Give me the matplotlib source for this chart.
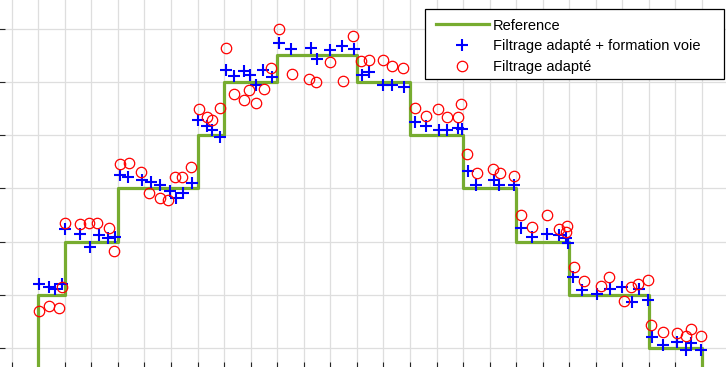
import numpy as np
import matplotlib
matplotlib.use('Agg')
import matplotlib.pyplot as plt
from matplotlib.patches import Rectangle

# Reference step profile (edges on x, level held until next edge)
ref_edges = [-1, 1, 2, 4, 7, 8, 10, 13, 15, 17, 19, 21, 24, 26, 28]
ref_levels = [-1, 1, 2, 3, 4, 5, 5.5, 5, 4, 3, 2, 1, 0, -1]

# Matched filtering + beamforming estimates
bf_x = [1.03, 1.42, 1.63, 1.88,
        2.01, 2.57, 2.95, 3.29, 3.64, 3.89,
        4.08, 4.39, 4.91, 5.24, 5.59, 5.96, 6.18, 6.46, 6.78,
        7.01, 7.37, 7.56, 7.85,
        8.07, 8.38, 8.75, 8.98, 9.20, 9.48, 9.79,
        10.07, 10.52, 11.27, 11.51, 11.97, 12.43, 12.89,
        13.18, 13.47, 13.97, 14.31, 14.76,
        15.18, 15.60, 16.11, 16.38, 16.82, 16.95,
        17.18, 17.49, 18.17, 18.37, 18.92,
        19.18, 19.60, 20.15, 20.60, 20.88, 20.95,
        21.13, 21.49, 22.03, 22.53, 22.98, 23.38, 23.63, 23.98,
        24.11, 24.52, 25.04, 25.41, 25.60, 25.97]
bf_y = [1.20, 1.14, 1.10, 1.20,
        2.23, 2.15, 1.90, 2.12, 2.06, 2.08,
        3.24, 3.21, 3.15, 3.12, 3.06, 2.94, 2.81, 2.92, 3.09,
        4.29, 4.16, 4.09, 3.96,
        5.22, 5.11, 5.20, 5.13, 4.94, 5.22, 5.09,
        5.72, 5.62, 5.64, 5.42, 5.59, 5.67, 5.62,
        5.13, 5.19, 4.94, 4.94, 4.90,
        4.25, 4.16, 4.09, 4.09, 4.13, 4.11,
        3.32, 3.06, 3.16, 3.06, 3.06,
        2.25, 2.09, 2.15, 2.12, 2.06, 1.97,
        1.33, 1.08, 1.01, 1.10, 1.15, 0.86, 1.10, 0.90,
        0.20, 0.05, 0.11, -0.04, 0.09, -0.04]

# Matched filtering only
mf_x = [1.03, 1.42, 1.78, 1.88,
        2.01, 2.57, 2.92, 3.21, 3.66, 3.85,
        4.08, 4.42, 4.86, 5.17, 5.59, 5.90, 6.15, 6.43, 6.74,
        7.04, 7.34, 7.53, 7.85,
        8.06, 8.38, 8.75, 8.94, 9.19, 9.50, 9.76,
        10.07, 10.55, 11.21, 11.46, 11.99, 12.47, 12.84,
        13.15, 13.46, 13.97, 14.31, 14.75,
        15.18, 15.59, 16.05, 16.38, 16.80, 16.91,
        17.14, 17.51, 18.12, 18.39, 18.92,
        19.17, 19.59, 20.16, 20.60, 20.90, 20.87,
        21.18, 21.54, 22.20, 22.49, 23.06, 23.33, 23.59, 23.97,
        24.08, 24.52, 25.06, 25.40, 25.59, 25.95]
mf_y = [0.69, 0.79, 0.76, 1.15,
        2.34, 2.32, 2.35, 2.35, 2.25, 1.83,
        3.46, 3.48, 3.31, 2.91, 2.81, 2.78, 3.22, 3.22, 3.39,
        4.48, 4.34, 4.28, 4.50,
        5.64, 4.77, 4.65, 4.85, 4.61, 4.86, 5.26,
        5.99, 5.15, 5.05, 5.00, 5.38, 5.02, 5.86,
        5.39, 5.41, 5.41, 5.30, 5.26,
        4.51, 4.36, 4.48, 4.34, 4.34, 4.59,
        3.64, 3.29, 3.36, 3.28, 3.23,
        2.50, 2.28, 2.50, 2.24, 2.29, 2.17,
        1.53, 1.25, 1.16, 1.33, 0.89, 1.14, 1.20, 1.28,
        0.44, 0.30, 0.29, 0.23, 0.36, 0.23]

W, H = 726, 367
fig = plt.figure(figsize=(W / 100, H / 100), dpi=100)

# axes box reaches past the figure edges (cropped view)
L, R, T, B = -1, 760, -20, 368
ax = fig.add_axes([L / W, (H - B) / H, (R - L) / W, (B - T) / H])

x0, sx = 11.7, 26.55   # pixel of x=0, pixels per unit
y0, sy = 348.0, 53.25  # pixel of y=0, pixels per unit
ax.set_xlim((L - x0) / sx, (R - x0) / sx)
ax.set_ylim((y0 - B) / sy, (y0 - T) / sy)

ax.step(ref_edges, ref_levels + [ref_levels[-1]], where='post',
        color='#77ac30', lw=2.3, label='Reference', zorder=2)
ax.plot(bf_x, bf_y, '+', color='#0000ff', ms=8, mew=1.5,
        label='Filtrage adapté + formation voie', zorder=3)
ax.plot(mf_x, mf_y, 'o', mfc='none', mec='#ff0000', ms=7.5, mew=0.9,
        label='Filtrage adapté', zorder=4)

ax.set_xticks(np.arange(0, 29, 1))
ax.set_yticks(np.arange(0, 7, 1))
ax.grid(True, color='#dedede', lw=0.9)
ax.set_axisbelow(True)
ax.tick_params(direction='in', length=4.5, width=0.8, color='#262626',
               labelleft=False, labelbottom=False)
for s in ax.spines.values():
    s.set_visible(False)

# legend box drawn separately so the padding matches the original
box = Rectangle((425 / W, 1 - 79 / H), 299 / W, 70 / H, transform=fig.transFigure,
                facecolor='white', edgecolor='black', lw=0.9, zorder=4.5, clip_on=False)
ax.add_patch(box)
leg = ax.legend(loc='upper left', bbox_to_anchor=(436 / W, 1 - 18.5 / H),
                bbox_transform=fig.transFigure, borderaxespad=0, borderpad=0,
                frameon=False, prop={'family': 'Liberation Sans', 'size': 10.5},
                handlelength=3.63, handletextpad=0.27, labelspacing=0.47)

fig.savefig('out.png', dpi=100)
